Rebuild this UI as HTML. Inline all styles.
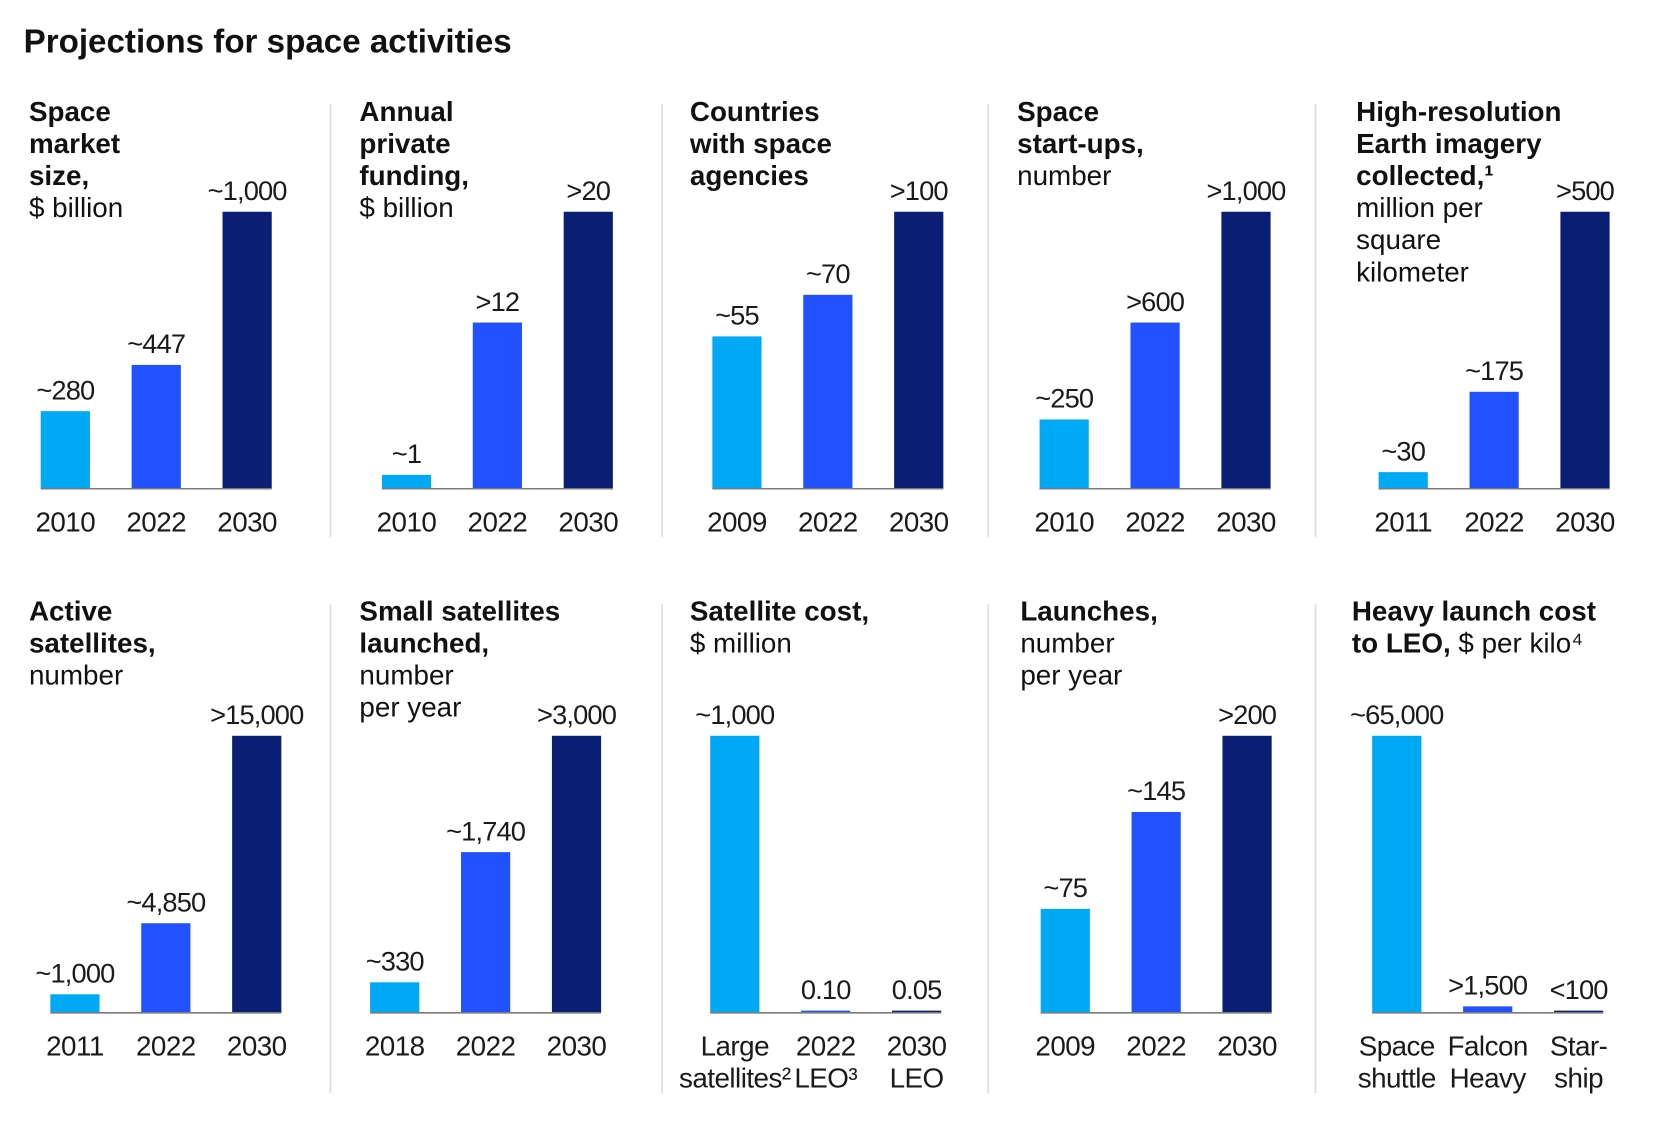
<!DOCTYPE html>
<html><head><meta charset="utf-8"><style>
html,body{margin:0;padding:0;background:#fff;}
svg{display:block;font-family:"Liberation Sans",sans-serif;}
.h{font-size:26px;fill:#111;letter-spacing:0px}
.b{font-weight:bold}
.v{font-size:25.5px;fill:#1a1a1a;text-anchor:middle;letter-spacing:-0.8px}
.c{font-size:26px;fill:#1a1a1a;text-anchor:middle;letter-spacing:-0.5px}
</style></head><body>
<svg id="chart" width="1676" height="1124" viewBox="0 0 1567 1051" xmlns="http://www.w3.org/2000/svg">
<text x="22" y="49" style="font-size:31px;font-weight:bold;fill:#111;letter-spacing:0px">Projections for space activities</text>
</svg>
<script>
const svgNS='http://www.w3.org/2000/svg';
const svg=document.getElementById('chart');
const colors=['#00a9f4','#2251ff','#0a1f73'];
// data arrays
const marketValues=[280,447,1000];
const marketLabels=['~280','~447','~1,000'];
const marketCats=[['2010'],['2022'],['2030']];
const fundingValues=[1,12,20];
const fundingLabels=['~1','>12','>20'];
const fundingCats=[['2010'],['2022'],['2030']];
const countriesValues=[55,70,100];
const countriesLabels=['~55','~70','>100'];
const countriesCats=[['2009'],['2022'],['2030']];
const startupValues=[250,600,1000];
const startupLabels=['~250','>600','>1,000'];
const startupCats=[['2010'],['2022'],['2030']];
const imageryValues=[30,175,500];
const imageryLabels=['~30','~175','>500'];
const imageryCats=[['2011'],['2022'],['2030']];
const activeValues=[1000,4850,15000];
const activeLabels=['~1,000','~4,850','>15,000'];
const activeCats=[['2011'],['2022'],['2030']];
const smallValues=[330,1740,3000];
const smallLabels=['~330','~1,740','>3,000'];
const smallCats=[['2018'],['2022'],['2030']];
const costValues=[1000,0.10,0.05];
const costLabels=['~1,000','0.10','0.05'];
const costCats=[['Large','satellites²'],['2022','LEO³'],['2030','LEO']];
const launchValues=[75,145,200];
const launchLabels=['~75','~145','>200'];
const launchCats=[['2009'],['2022'],['2030']];
const heavyValues=[65000,1500,100];
const heavyLabels=['~65,000','>1,500','<100'];
const heavyCats=[['Space','shuttle'],['Falcon','Heavy'],['Star-','ship']];

function el(tag,attrs,parent){const e=document.createElementNS(svgNS,tag);for(const k in attrs)e.setAttribute(k,attrs[k]);(parent||svg).appendChild(e);return e;}

const panels=[
 {name:'space-market-size',vals:marketValues,labs:marketLabels,cats:marketCats,x0:38,base:457,tx:27,ty:113,head:[[['Space',1]],[['market',1]],[['size,',1]],[['$ billion',0]]]},
 {name:'annual-private-funding',vals:fundingValues,labs:fundingLabels,cats:fundingCats,x0:357,base:457,tx:336,ty:113,head:[[['Annual',1]],[['private',1]],[['funding,',1]],[['$ billion',0]]]},
 {name:'countries-space-agencies',vals:countriesValues,labs:countriesLabels,cats:countriesCats,x0:666,base:457,tx:645,ty:113,head:[[['Countries',1]],[['with space',1]],[['agencies',1]]]},
 {name:'space-startups',vals:startupValues,labs:startupLabels,cats:startupCats,x0:972,base:457,tx:951,ty:113,head:[[['Space',1]],[['start-ups,',1]],[['number',0]]]},
 {name:'earth-imagery',vals:imageryValues,labs:imageryLabels,cats:imageryCats,x0:1289,base:457,tx:1268,ty:113,head:[[['High-resolution',1]],[['Earth imagery',1]],[['collected,¹',1]],[['million per',0]],[['square',0]],[['kilometer',0]]]},
 {name:'active-satellites',vals:activeValues,labs:activeLabels,cats:activeCats,x0:47,base:947,tx:27,ty:580,head:[[['Active',1]],[['satellites,',1]],[['number',0]]]},
 {name:'small-satellites',vals:smallValues,labs:smallLabels,cats:smallCats,x0:346,base:947,tx:336,ty:580,head:[[['Small satellites',1]],[['launched,',1]],[['number',0]],[['per year',0]]]},
 {name:'satellite-cost',vals:costValues,labs:costLabels,cats:costCats,x0:664,base:947,tx:645,ty:580,head:[[['Satellite cost,',1]],[['$ million',0]]]},
 {name:'launches',vals:launchValues,labs:launchLabels,cats:launchCats,x0:973,base:947,tx:954,ty:580,head:[[['Launches,',1]],[['number',0]],[['per year',0]]]},
 {name:'heavy-launch-cost',vals:heavyValues,labs:heavyLabels,cats:heavyCats,x0:1283,base:947,tx:1264,ty:580,head:[[['Heavy launch cost',1]],[['to LEO, ',1],['$ per kilo⁴',0]]]}
];
[[309,97,502],[619,97,502],[924,97,502],[1230,97,502],[309,565,1022],[619,565,1022],[924,565,1022],[1230,565,1022]].forEach((s,i)=>{
 const l=el('line',{x1:s[0],x2:s[0],y1:s[1],y2:s[2],stroke:'#dcdcdc','stroke-width':1.5});
 
 
});
const H=259,BW=46,STEP=85;
panels.forEach(p=>{
 const g=el('g',{});
 
 
 p.head.forEach((line,i)=>{
  const t=el('text',{class:'h',x:p.tx,y:p.ty+i*30},g);
  
  
  line.forEach(seg=>{const s=el('tspan',{},t);if(seg[1])s.setAttribute('class','b');s.textContent=seg[0];});
 });
 const max=Math.max(...p.vals);
 const y=v=>p.base-Math.max(2,v/max*H);
 const xc=i=>p.x0+i*STEP;
 p.vals.forEach((v,i)=>{
  const r=el('rect',{x:xc(i),y:y(v),width:BW,height:p.base-y(v),fill:colors[i]},g);
  
  
  const t=el('text',{class:'v',x:xc(i)+BW/2,y:y(v)-11},g);
  t.textContent=p.labs[i];
  
  
  p.cats[i].forEach((c,j)=>{
   const ct=el('text',{class:'c',x:xc(i)+BW/2,y:p.base+40+j*30},g);
   ct.textContent=c;
   
   
  });
 });
 const ax=el('line',{x1:p.x0,x2:p.x0+2*STEP+BW,y1:p.base,y2:p.base,stroke:'#7a7a7a','stroke-width':1.5},g);
 
 
});
</script>
</body></html>
